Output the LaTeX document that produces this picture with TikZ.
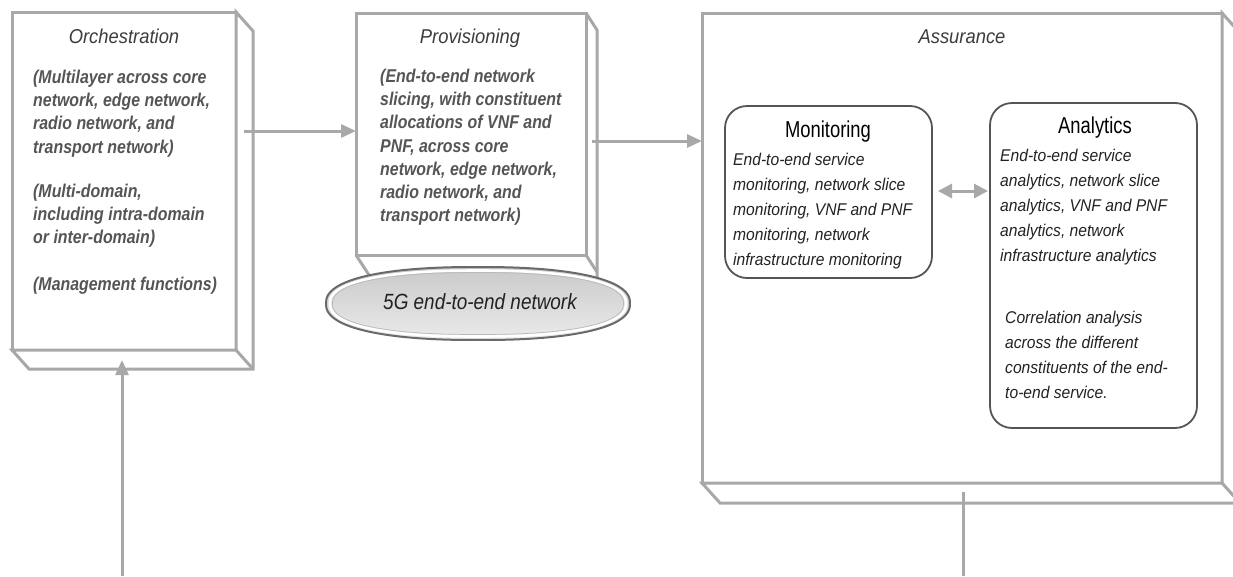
\documentclass[tikz,border=0pt]{standalone}
\usepackage{fontspec}
\newfontfamily\bodyfont{Liberation Sans}[FakeStretch=0.86]
\newfontfamily\notefont{Liberation Sans}[FakeStretch=0.92]
\newfontfamily\headfont{Liberation Sans}[FakeStretch=0.80]
\usetikzlibrary{arrows.meta,calc}

\definecolor{edge}{HTML}{A8A8A8}
\definecolor{ink}{HTML}{222222}
\definecolor{greytext}{HTML}{555555}
\definecolor{titletext}{HTML}{3C3C3C}
\definecolor{rim}{HTML}{555555}
\definecolor{discrim}{HTML}{6A6A6A}

\tikzset{
  face/.style={draw=edge, line width=3pt, fill=white, rectangle, inner sep=0pt, outer sep=0pt, anchor=north west},
  side/.style={draw=edge, line width=3pt, fill=white},
  arr/.style={draw=edge, line width=3pt, -{Triangle[length=15pt,width=13pt]}},
  twoway/.style={draw=edge, line width=3pt, {Triangle[length=14pt,width=14pt]}-{Triangle[length=14pt,width=14pt]}},
  plainline/.style={draw=edge, line width=3pt},
  panel/.style={draw=rim, line width=1.8pt, rounded corners=22pt, rectangle, inner sep=0pt, outer sep=0pt, anchor=north west},
  title/.style={font=\notefont\itshape\fontsize{20}{24}\selectfont, text=titletext, anchor=base, inner sep=0pt},
  boldnote/.style={font=\bodyfont\bfseries\itshape\fontsize{18.5}{23.3}\selectfont, text=greytext, align=left, anchor=north west, inner sep=0pt},
  note/.style={font=\notefont\itshape\fontsize{17}{25}\selectfont, text=ink, align=left, anchor=north west, inner sep=0pt},
  head/.style={font=\headfont\fontsize{23}{26}\selectfont, text=black, anchor=base, inner sep=0pt},
}

% 3D sides of a box: right face and bottom face behind the front face
\newcommand{\boxdepth}[3]{%
  \draw[side] (#1.north east) -- ++(#2,#3) -- ($(#1.south east)+(#2,#3)$)
     -- ($(#1.south west)+(#2,#3)$) -- (#1.south west) -- (#1.south east) -- cycle;
  \draw[plainline] (#1.south east) -- ++(#2,#3);
}

% oval centred at (#1,#2) with half axes #3 and #4
\newcommand{\discpath}[4]{%
  plot[domain=1.5:358.5, samples=120, variable=\t]
    ({#1+#3*sign(cos(\t))*abs(cos(\t))^(0.85)}, {#2+#4*sign(sin(\t))*abs(sin(\t))^(0.85)}) -- cycle}

\begin{document}
\begin{tikzpicture}[x=1pt,y=-1pt]
\path[use as bounding box] (0,0) rectangle (1233,576);
\clip (0,0) rectangle (1233,576);

% front faces
\node[face, minimum width=224pt, minimum height=338pt] (orch) at (12,12) {};
\node[face, minimum width=230pt, minimum height=242pt] (prov) at (356,13) {};
\node[face, minimum width=520pt, minimum height=470pt] (assur) at (702,13) {};

% depth of the boxes
\boxdepth{orch}{17}{19}
\boxdepth{assur}{18}{20}
% the provisioning box stands on the disc: its lower edges run behind it
\draw[plainline] (prov.north east) -- ++(11,17) -- ($(prov.south east)+(11,30)$);
\draw[plainline] (prov.south east) -- ++(11,17);
\draw[plainline] (prov.south west) -- ++(14,21.6);

% Orchestration
\node[title] (orchT) at (124,43) {Orchestration};
\node[boldnote] (orchA) at (33,69.5) {(Multilayer across core\\network, edge network,\\radio network, and\\transport network)};
\node[boldnote] (orchB) at (33,183.5) {(Multi-domain,\\including intra-domain\\or inter-domain)};
\node[boldnote] (orchC) at (33,277) {(Management functions)};

% Provisioning
\node[title] (provT) at (470,43) {Provisioning};
\node[boldnote] (provA) at (380,68.5) {(End-to-end network\\slicing, with constituent\\allocations of VNF and\\PNF, across core\\network, edge network,\\radio network, and\\transport network)};

% 5G network disc
\path[draw=discrim, line width=2pt, top color=gray!42, bottom color=gray!16] \discpath{478}{303.5}{152}{36.5};
\draw[white, line width=2.6pt] \discpath{478}{303.5}{148}{33};
\draw[gray!55, line width=0.7pt] \discpath{478}{303.5}{145.5}{31};
\node[font=\bodyfont\itshape\fontsize{22}{26}\selectfont, text=ink, inner sep=0pt] (netT) at (480,302) {5G end-to-end network};

% Assurance
\node[title] (assurT) at (962,43) {Assurance};
\node[panel, minimum width=207pt, minimum height=172pt] (mon) at (725,106) {};
\node[panel, minimum width=207pt, minimum height=325pt] (ana) at (990,103) {};
\node[head] (monT) at (828,137) {Monitoring};
\node[head] (anaT) at (1095,133) {Analytics};
\node[note] (monA) at (733,153) {End-to-end service\\monitoring, network slice\\monitoring, VNF and PNF\\monitoring, network\\infrastructure monitoring};
\node[note] (anaA) at (1000,149) {End-to-end service\\analytics, network slice\\analytics, VNF and PNF\\analytics, network\\infrastructure analytics};
\node[note] (anaB) at (1005,311) {Correlation analysis\\across the different\\constituents of the end-\\to-end service.};

% connectors
\coordinate (o1) at (244,131);
\draw[arr] (o1) -- (o1 -| prov.west);
\coordinate (p1) at (592,141);
\draw[arr] (p1) -- (p1 -| assur.west);
\coordinate (m1) at ($(mon.east)+(0,-1)$);
\draw[twoway, shorten <=6pt, shorten >=2pt] (m1) -- (m1 -| ana.west);
\coordinate (b1) at (122,576);
\coordinate (b1tip) at (122,360);
\draw[arr] (b1) -- (b1tip);
\coordinate (a1) at (963,492);
\coordinate (a1end) at (963,576);
\draw[plainline] (a1) -- (a1end);
\end{tikzpicture}
\end{document}
